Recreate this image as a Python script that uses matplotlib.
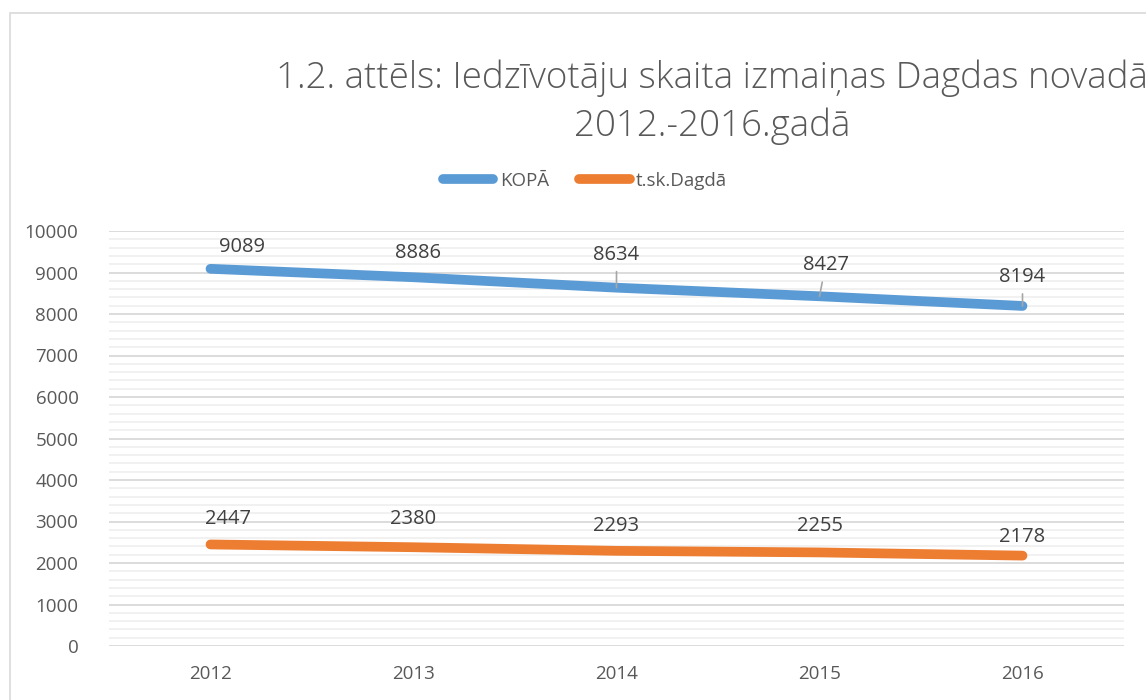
import matplotlib.pyplot as plt
from matplotlib.patches import Rectangle
from matplotlib.ticker import MultipleLocator

years = ['2012', '2013', '2014', '2015', '2016']
kopa = [9089, 8886, 8634, 8427, 8194]
dagda = [2447, 2380, 2293, 2255, 2178]

# label offsets in pixels (dx, dy) and whether a leader line is drawn
kopa_off = [(31, 22), (5, 24), (0, 33), (6, 31), (0, 29)]
kopa_lead = [False, False, True, True, True]
dagda_off = [(18, 25), (0, 28), (0, 25), (0, 26), (0, 19)]

plt.rcParams['font.family'] = ['Open Sans', 'DejaVu Sans']

fig = plt.figure(figsize=(11.46, 7.0), dpi=100)
ax = fig.add_axes([109 / 1146, 54 / 700, 1015 / 1146, 415 / 700])

x = list(range(len(years)))
blue = '#5B9BD5'
orange = '#ED7D31'
ax.plot(x, kopa, color=blue, lw=7, solid_capstyle='round', label='KOPĀ', zorder=3)
ax.plot(x, dagda, color=orange, lw=7, solid_capstyle='round', label='t.sk.Dagdā', zorder=3)

for i, v in enumerate(kopa):
    dx, dy = kopa_off[i]
    ap = dict(arrowstyle='-', color='#a6a6a6', lw=1.2, shrinkA=3, shrinkB=0) if kopa_lead[i] else None
    ax.annotate(str(v), (i, v), xytext=(dx, dy), textcoords='offset pixels',
                ha='center', va='center', fontsize=14.5, color='#404040', arrowprops=ap)
for i, v in enumerate(dagda):
    dx, dy = dagda_off[i]
    ax.annotate(str(v), (i, v), xytext=(dx, dy), textcoords='offset pixels',
                ha='center', va='center', fontsize=14.5, color='#404040')

ax.set_xlim(-0.5, len(years) - 0.5)
ax.set_ylim(0, 10000)
ax.set_xticks(x)
ax.set_xticklabels(years)
ax.yaxis.set_major_locator(MultipleLocator(1000))
ax.yaxis.set_minor_locator(MultipleLocator(200))
ax.grid(which='major', axis='y', color='#d9d9d9', lw=1.3)
ax.grid(which='minor', axis='y', color='#f0f0f0', lw=1.3)
ax.set_axisbelow(True)
for s in ax.spines.values():
    s.set_visible(False)
ax.tick_params(axis='both', which='both', length=0, labelsize=13.5, labelcolor='#595959')
ax.tick_params(axis='x', pad=14)
ax.tick_params(axis='y', pad=22)

fig.text(712 / 1146, 1 - 102 / 700, '1.2. attēls: Iedzīvotāju skaita izmaiņas Dagdas novadā\n2012.-2016.gadā',
         ha='center', va='center', fontsize=26.5, color='#595959', fontweight='light',
         linespacing=1.38)

leg = fig.legend(loc='center', bbox_to_anchor=(585 / 1146, 1 - 181 / 700), ncol=2, frameon=False,
                 fontsize=13.5, handlelength=2.7, columnspacing=1.6, handletextpad=0.35)
for t in leg.get_texts():
    t.set_color('#595959')

fig.patches.append(Rectangle((10 / 1146, -0.05), 1.2, 1.05 - 13 / 700,
                             transform=fig.transFigure, fill=False, edgecolor='#d9d9d9', lw=1.2))

fig.savefig('out.png', dpi=100)
